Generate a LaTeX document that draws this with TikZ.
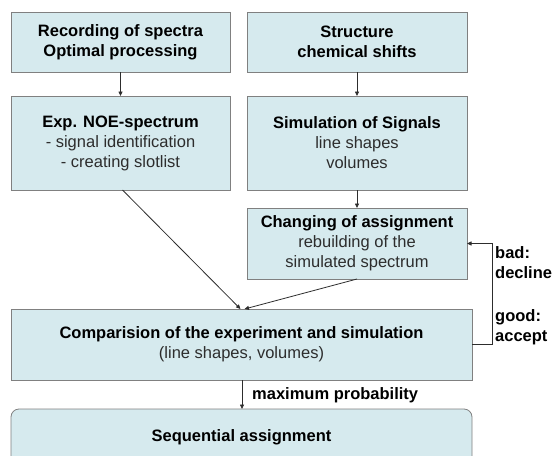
\documentclass[tikz,border=0pt]{standalone}
\usepackage{fontspec}
\setmainfont{Liberation Sans}
\usetikzlibrary{arrows.meta}
\definecolor{boxfill}{RGB}{214,234,238}
\definecolor{boxline}{RGB}{128,128,128}
\definecolor{linecol}{RGB}{45,45,45}
\definecolor{txtgray}{RGB}{45,45,45}
\begin{document}
\begin{tikzpicture}[x=1pt,y=-1pt,
  box/.style={draw=boxline, fill=boxfill, line width=0.8pt, inner sep=0pt, outer sep=0pt,
    align=center, font=\fontsize{16.5}{20}\selectfont, text=txtgray},
  arr/.style={draw=linecol, line width=0.8pt, -{Triangle[length=4.5pt,width=4pt]}},
  lbl/.style={font=\fontsize{16.5}{20}\selectfont\bfseries, align=left, inner sep=0pt, text=black}]
\useasboundingbox (0,0) rectangle (554,455);
\clip (0,0) rectangle (554,455);
\node[box, minimum width=219pt, minimum height=60pt] (b1) at (120.5,42)
  {\textcolor{black}{\bfseries Recording of spectra}\\\textcolor{black}{\bfseries Optimal processing}};
\node[box, minimum width=220pt, minimum height=60pt] (b2) at (357,42)
  {\textcolor{black}{\bfseries Structure}\\\textcolor{black}{\bfseries chemical shifts}};
\node[box, minimum width=219pt, minimum height=94pt] (b3) at (120.5,143)
  {\textcolor{black}{\bfseries Exp. NOE-spectrum}\\- signal identification\\- creating slotlist};
\node[box, minimum width=220pt, minimum height=94pt] (b4) at (357,143)
  {\textcolor{black}{\bfseries Simulation of Signals}\\line shapes\\volumes};
\node[box, minimum width=220pt, minimum height=71pt] (b5) at (357,243.5)
  {\textcolor{black}{\bfseries Changing of assignment}\\rebuilding of the\\simulated spectrum};
\node[box, minimum width=461pt, minimum height=71pt] (b6) at (241.5,344.5)
  {\textcolor{black}{\bfseries Comparision of the experiment and simulation}\\(line shapes, volumes)};
\node[box, rounded corners=8pt, minimum width=461pt, minimum height=56pt] (b7) at (241.5,437)
  {\textcolor{black}{\bfseries Sequential assignment}};
\draw[arr] (b1) -- (b3);
\draw[arr] (b2) -- (b4);
\draw[arr] (b4) -- (b5);
\draw[arr] ([xshift=2pt]b3.south) -- ([xshift=-1pt]b6.north);
\draw[arr] (b5.south) -- ([xshift=3pt]b6.north);
\draw[arr] ([xshift=0.5pt]b6.south) -- ([xshift=0.5pt]b7.north);
\draw[arr] (b6.east) -- ++(20,0) |- (b5.east);
\node[lbl, anchor=west] (lmax) at (252,395) {maximum probability};
\node[lbl, anchor=west] (lbad) at (495,263) {bad:\\decline};
\node[lbl, anchor=west] (lgood) at (495,327) {good:\\accept};
\end{tikzpicture}
\end{document}
